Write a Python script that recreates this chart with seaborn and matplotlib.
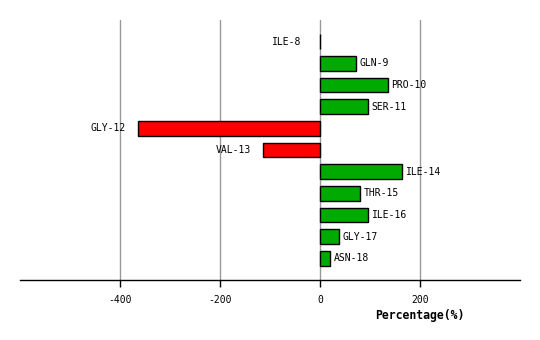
import matplotlib
matplotlib.use("Agg")
import matplotlib.pyplot as plt
import matplotlib.transforms as mtransforms
import seaborn as sns
import pandas as pd

residues = ["ILE-8", "GLN-9", "PRO-10", "SER-11", "GLY-12", "VAL-13",
            "ILE-14", "THR-15", "ILE-16", "GLY-17", "ASN-18"]
values = [0.5, 71, 135, 95, -365, -115, 163, 79, 95, 37, 19]
xticks = [-400, -200, 0, 200]

sns.set_theme(style="white")
plt.rcParams['font.family'] = ['DejaVu Sans Mono']
plt.rcParams['text.color'] = 'black'
plt.rcParams['xtick.color'] = 'black'

df = pd.DataFrame({"res": residues, "val": values})
df["sign"] = ["neg" if v < 0 else "pos" for v in values]

fig = plt.figure(figsize=(5.4, 3.4), dpi=100)
ax = fig.add_axes([20/540, 60/340, 500/540, 260/340])
sns.barplot(data=df, x="val", y="res", hue="sign", order=residues,
            palette={"pos": "#00aa00", "neg": "#ff0000"}, dodge=False,
            saturation=1, legend=False, width=0.69, edgecolor="black",
            linewidth=1, orient="h", ax=ax, zorder=3)
ax.set_xlim(-600, 400)
ax.set_ylim(11, -1)
ax.set_xticks(xticks)
ax.set_xticklabels([str(t) for t in xticks], fontsize=7, color="black")
ax.set_yticks([])
ax.set_ylabel("")
ax.set_xlabel("")
for s in ["top", "right", "left"]:
    ax.spines[s].set_visible(False)
ax.spines["bottom"].set_color("black")
ax.spines["bottom"].set_linewidth(1)
ax.tick_params(axis="x", direction="out", length=5, width=1, color="black",
               bottom=True, pad=6)
ax.grid(axis="x", color="#999999", linewidth=1, zorder=0)
ax.set_axisbelow(True)

for i, (r, v) in enumerate(zip(residues, values)):
    if v < 0:
        ax.annotate(r, (v, i), xytext=(-12, 0), textcoords="offset pixels",
                    ha="right", va="center", fontsize=7, color="black")
    elif v < 2:
        ax.annotate(r, (0, i), xytext=(-19, 0), textcoords="offset pixels",
                    ha="right", va="center", fontsize=7, color="black")
    else:
        ax.annotate(r, (v, i), xytext=(4, 0), textcoords="offset pixels",
                    ha="left", va="center", fontsize=7, color="black")

trans = mtransforms.blended_transform_factory(ax.transData, fig.transFigure)
ax.text(200, 1 - 315/340, "Percentage(%)", transform=trans, fontsize=8.3,
        fontweight="bold", ha="center", va="center", color="black")

fig.savefig("out.png", dpi=100)
